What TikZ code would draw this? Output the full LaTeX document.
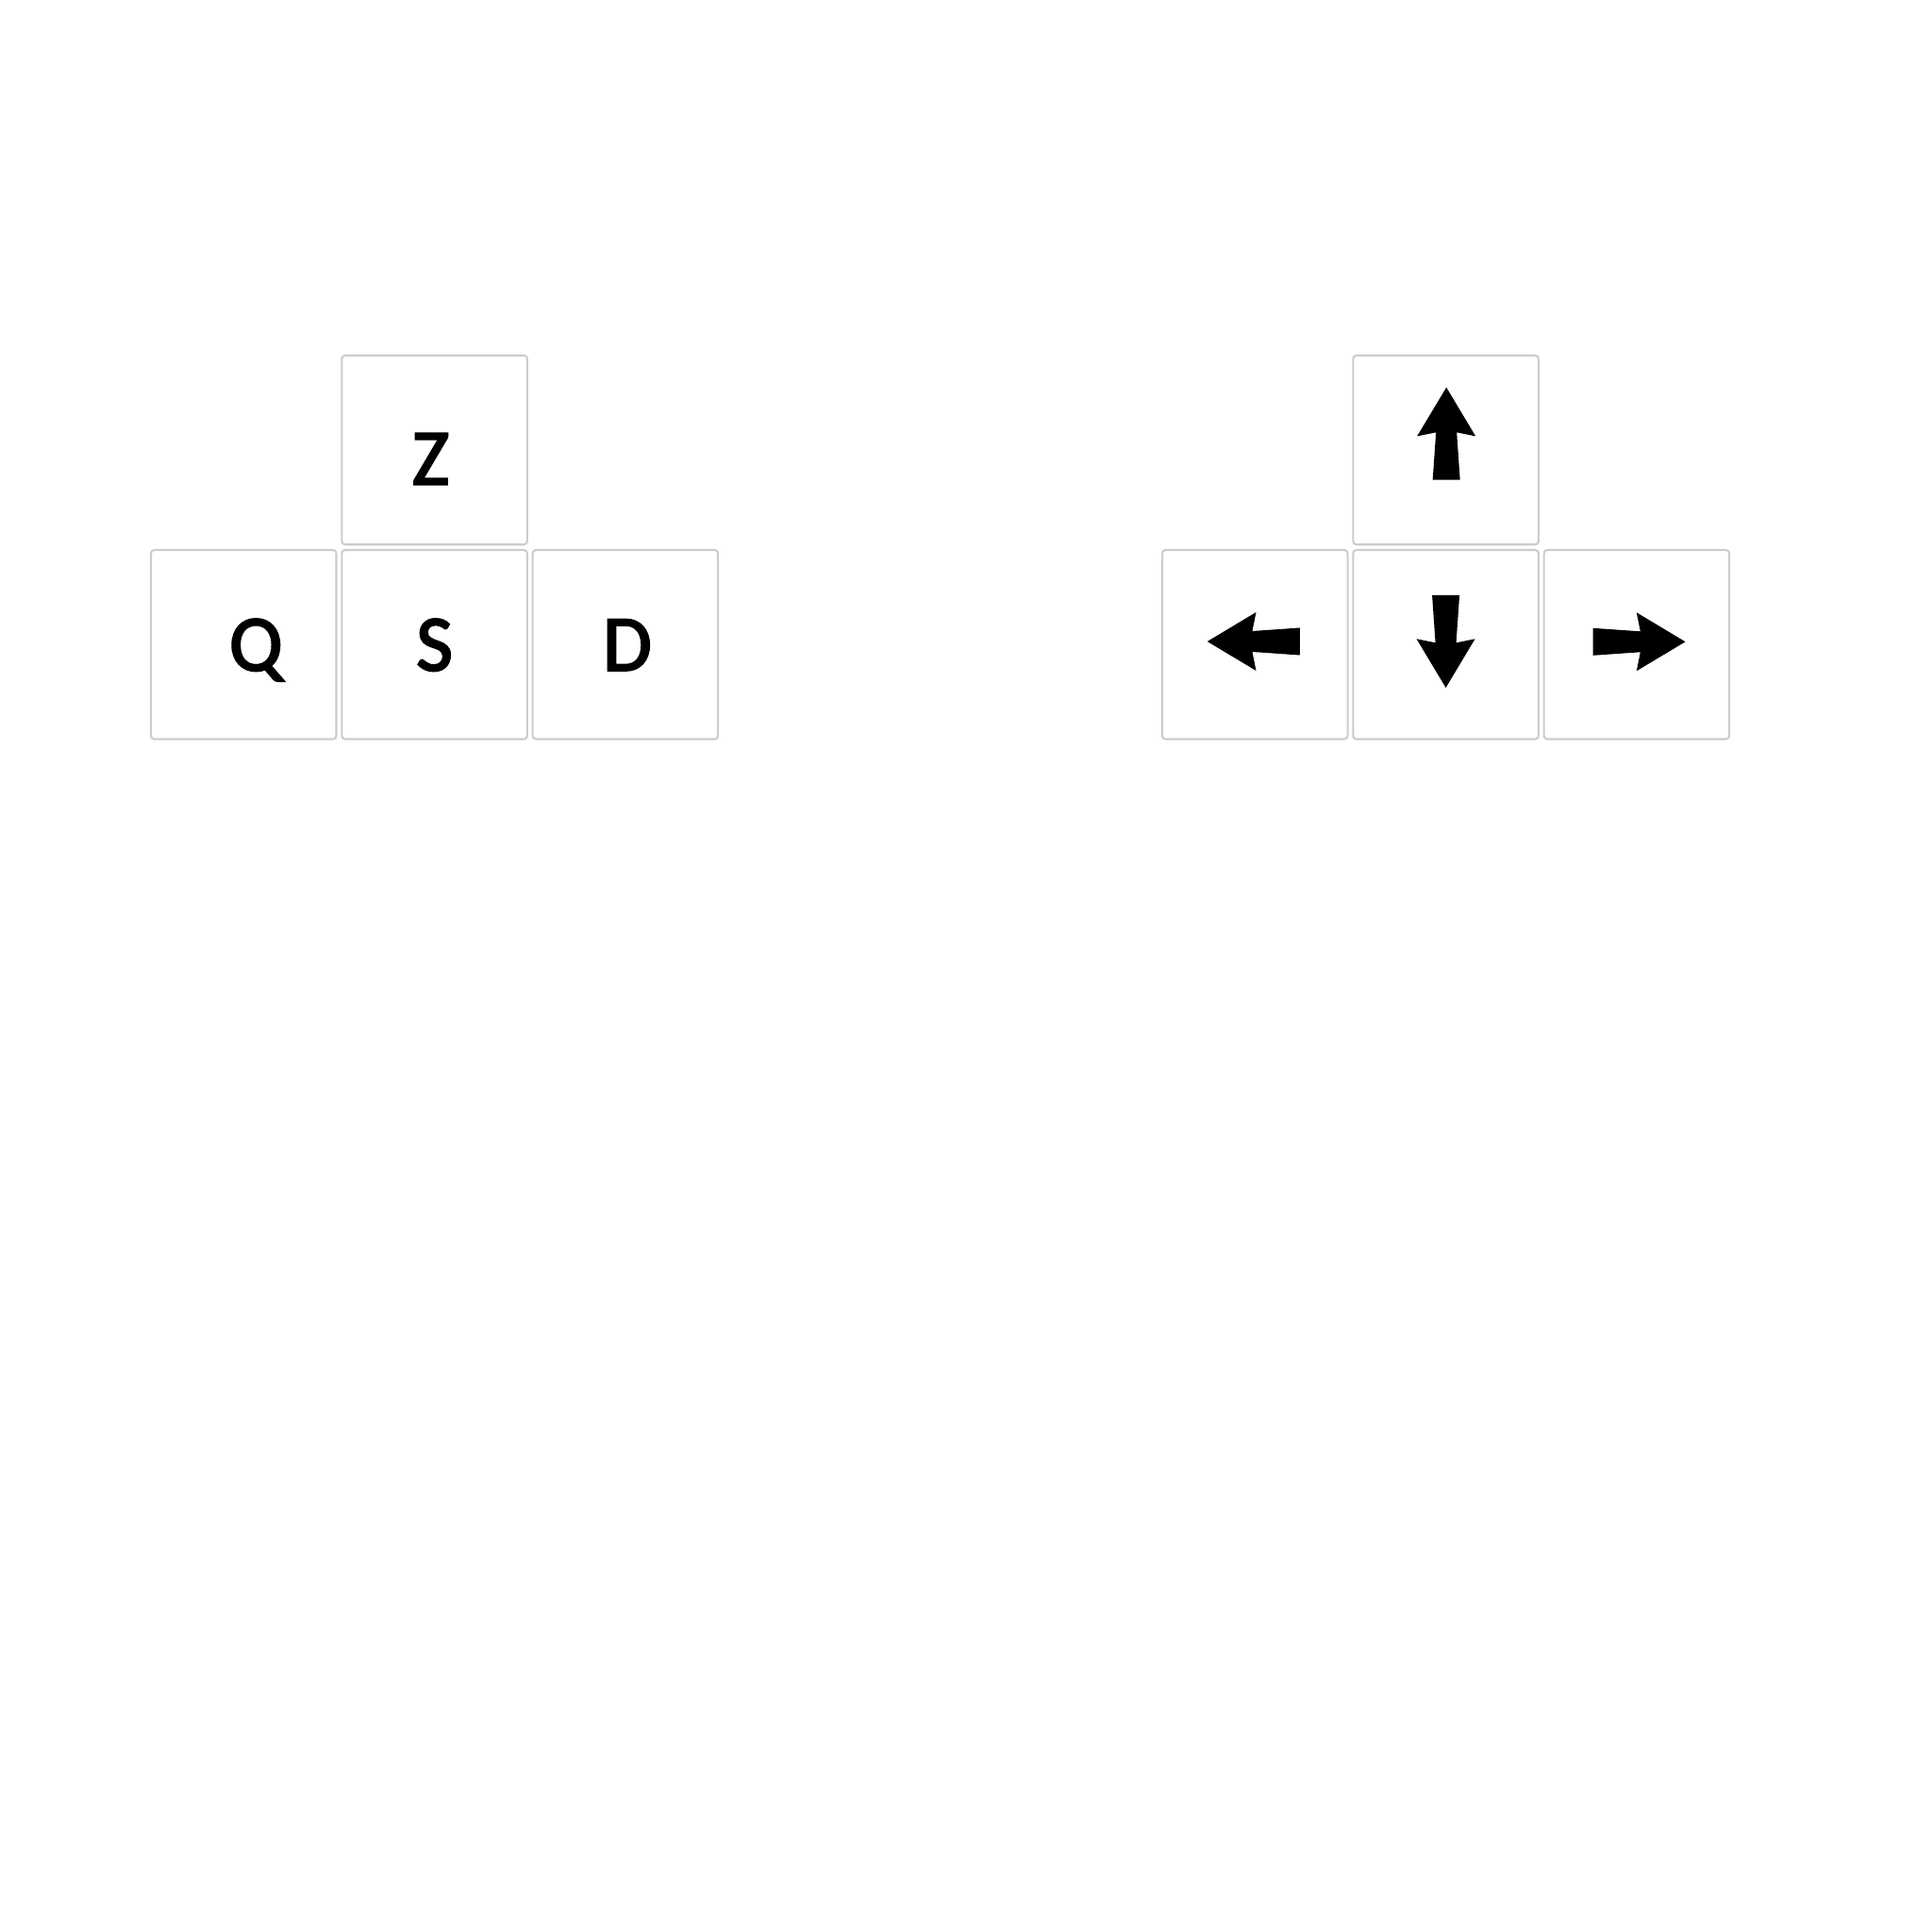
\documentclass[tikz,border=0pt]{standalone}
\usepackage{fontspec}
\setmainfont{Carlito}
\newfontfamily\keyfont{Carlito}[FakeBold=2.5]
\usetikzlibrary{positioning}

\begin{document}
\begin{tikzpicture}[
        node distance=0.037cm,
        key/.style={
            rectangle,
            rounded corners=1pt,
            minimum width=1.965cm,
            minimum height=2.005cm,
            inner sep=0pt,
            text height=0.55cm,
            text depth=0pt,
            text centered,
            draw=black!20,
            line width=0.6pt,
            font=\keyfont\fontsize{24}{28}\selectfont
        },
        arrowkey/.style={
            fill=black
        }
    ]

    % Frame
    \useasboundingbox (0,0) rectangle (20.48,20.48);

    % Letter keys
    \node (qkey) [key] at (2.583,13.647) {\hspace*{0.26cm}Q};
    \node (skey) [key, right=of qkey] {S};
    \node (dkey) [key, right=of skey] {\hspace*{0.04cm}D};
    \node (zkey) [key, above=of skey, text height=0.73cm] {Z\hspace*{0.08cm}};

    % Arrow keys
    \node (leftkey) [key] at (13.303,13.647) {};
    \node (downkey) [key, right=of leftkey] {};
    \node (rightkey) [key, right=of downkey] {};
    \node (upkey) [key, above=of downkey] {};

    % Arrows on the keys
    \foreach \keyname/\angle/\dx/\dy in {rightkey/0/0.026/0.03, upkey/90/0.006/0.173,
                                         leftkey/180/-0.015/0.033, downkey/270/0/0.033}
        \fill [arrowkey, shift={(\keyname.center)}, shift={(\dx,\dy)}, rotate=\angle]
            (-0.49,0.145) -- (0.013,0.11) -- (-0.027,0.31) -- (0.49,0)
            -- (-0.027,-0.31) -- (0.013,-0.11) -- (-0.49,-0.145) -- cycle;

\end{tikzpicture}
\end{document}
